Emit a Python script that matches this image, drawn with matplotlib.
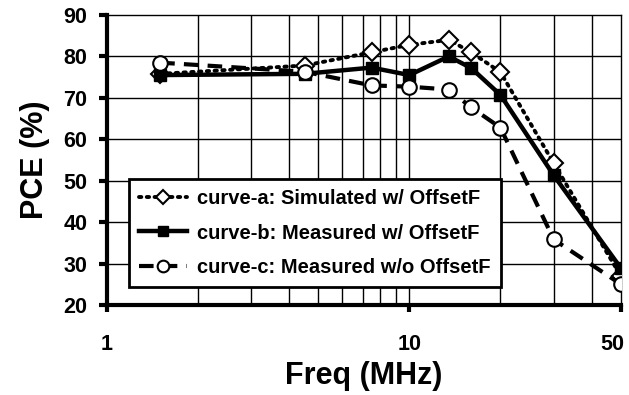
import matplotlib
matplotlib.use('Agg')
import matplotlib.pyplot as plt
import matplotlib.transforms as mtransforms

plt.rcParams['font.family'] = ['Liberation Sans', 'DejaVu Sans']
plt.rcParams['font.weight'] = 'bold'

freq = [1.5, 4.5, 7.5, 10, 13.5, 16, 20, 30, 50]
curve_a = [75.8, 77.8, 81.0, 82.8, 84.0, 81.0, 76.2, 54.2, 27.0]
curve_b = [75.5, 75.8, 77.3, 75.5, 80.0, 77.2, 70.7, 51.3, 28.9]
curve_c = [78.5, 76.3, 73.0, 72.7, 72.0, 67.7, 62.8, 35.8, 25.0]

labels = ['curve-a: Simulated w/ OffsetF',
          'curve-b: Measured w/ OffsetF',
          'curve-c: Measured w/o OffsetF']

fig = plt.figure(figsize=(6.29, 3.95), dpi=100)
ax = fig.add_axes([0.170, 0.228, 0.817, 0.734])

ax.plot(freq, curve_a, linestyle=(0, (0.6, 1.4)), dash_capstyle='round', color='black',
        linewidth=2.8, marker='D', markersize=9.5, markerfacecolor='white',
        markeredgecolor='black', markeredgewidth=1.5, label=labels[0], zorder=3)
ax.plot(freq, curve_b, linestyle='-', color='black', linewidth=3.2,
        marker='s', markersize=9, markerfacecolor='black',
        markeredgecolor='black', label=labels[1], zorder=4)
ax.plot(freq, curve_c, linestyle=(0, (3.5, 2.2)), color='black', linewidth=3.0,
        marker='o', markersize=10.5, markerfacecolor='white',
        markeredgecolor='black', markeredgewidth=1.5, label=labels[2], zorder=5)

ax.set_xscale('log')
ax.set_xlim(1, 50)
ax.set_ylim(20, 90)

minor = [2, 3, 4, 5, 6, 7, 8, 9, 20, 30, 40]
ax.set_xticks([1, 10, 50])
ax.set_xticklabels(['1', '10', '50'])
ax.set_xticks(minor, minor=True)
ax.set_xticklabels([], minor=True)
ax.set_yticks(range(20, 91, 10))

for x in minor + [10]:
    ax.axvline(x, color='black', linewidth=1.0, zorder=1)
for y in range(30, 90, 10):
    ax.axhline(y, color='black', linewidth=1.0, zorder=1)

ax.tick_params(axis='x', which='major', direction='out', length=5, width=3,
               pad=16, labelsize=15.5)
ax.tick_params(axis='x', which='minor', length=0)
ax.tick_params(axis='y', direction='out', length=6, width=3, pad=8, labelsize=15.5)

# shift the last x label inward so it stays on the canvas
lab50 = ax.get_xticklabels()[-1]
lab50.set_transform(lab50.get_transform() +
                    mtransforms.ScaledTranslation(-6 / 72, 0, fig.dpi_scale_trans))

for s in ['left', 'bottom']:
    ax.spines[s].set_linewidth(3.0)
for s in ['top', 'right']:
    ax.spines[s].set_linewidth(1.0)

ax.set_xlabel('Freq (MHz)', fontsize=22, fontweight='bold', labelpad=4)
ax.set_ylabel('PCE (%)', fontsize=22, fontweight='bold', labelpad=10)

leg = ax.legend(loc='lower left', bbox_to_anchor=(0.043, 0.063), fontsize=14.5,
                frameon=True, fancybox=False, edgecolor='black', framealpha=1,
                handlelength=2.4, labelspacing=0.75, borderpad=0.5,
                handletextpad=0.5, borderaxespad=0, markerscale=0.8)
leg.get_frame().set_linewidth(2.0)
leg.set_zorder(6)

fig.savefig('out.png', dpi=100)
